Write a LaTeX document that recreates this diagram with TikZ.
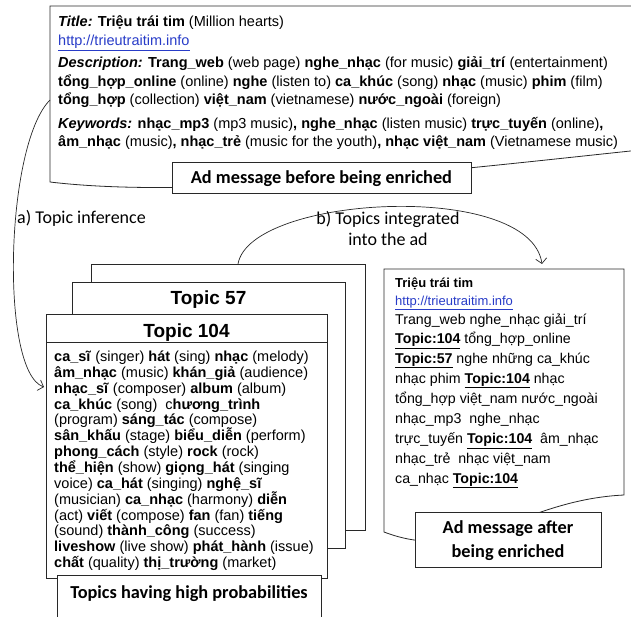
\documentclass[tikz,border=0pt]{standalone}
\usepackage{fontspec}
\setmainfont{Liberation Sans}
\newfontfamily\calfont{Carlito}
\usetikzlibrary{arrows.meta}
\definecolor{linkblue}{RGB}{40,60,200}
\definecolor{edge}{RGB}{40,40,40}
\newcommand{\us}{\_}
\newcommand{\tpc}[1]{\underline{\textbf{#1}}}
\newcommand{\lnk}{\textcolor{linkblue}{\underline{http://trieutraitim.info}}}
\begin{document}
\begin{tikzpicture}[x=1pt,y=-1pt,
  outline/.style={draw=edge, line width=0.8pt},
  card/.style={draw=edge, line width=0.8pt, fill=white},
  txt/.style={anchor=base west, inner sep=0pt, font=\fontsize{14.5}{17}\selectfont},
  rtxt/.style={anchor=base west, inner sep=0pt, font=\fontsize{14.2}{17}\selectfont},
  smalltxt/.style={anchor=base west, inner sep=0pt, font=\fontsize{13}{16}\selectfont},
  lbl/.style={anchor=base, inner sep=0pt, font=\calfont\fontsize{18}{21}\selectfont},
  boxline/.style={draw=edge, line width=0.8pt, fill=white},
  captext/.style={anchor=base, inner sep=0pt, font=\calfont\bfseries\fontsize{18.3}{22}\selectfont},
  cardtitle/.style={anchor=base, inner sep=0pt, font=\bfseries\fontsize{19}{21}\selectfont},
  arr/.style={draw=edge, line width=0.7pt, -{Straight Barb[length=5pt,width=11pt]}}
]
\useasboundingbox (0,0) rectangle (631,617);

% ---------- top document (ad before enrichment) ----------
\draw[outline] (640,6) -- (50,6) -- (50,182) .. controls (200,200) and (450,170) .. (640,150);
\node[txt] (t1) at (58,27) {\textbf{\textit{Title:}} \textbf{Triệu trái tim} (Million hearts)};
\node[txt] (t2) at (58,45.5) {\lnk};
\node[txt] (t3) at (58,68) {\textbf{\textit{Description:}} \textbf{Trang\us web} (web page) \textbf{nghe\us nhạc} (for music) \textbf{giải\us trí} (entertainment)};
\node[txt] (t4) at (58,86.5) {\textbf{tổng\us hợp\us online} (online) \textbf{nghe} (listen to) \textbf{ca\us khúc} (song) \textbf{nhạc} (music) \textbf{phim} (film)};
\node[txt] (t5) at (58,105) {\textbf{tổng\us hợp} (collection) \textbf{việt\us nam} (vietnamese) \textbf{nước\us ngoài} (foreign)};
\node[txt] (t6) at (58,128.5) {\textbf{\textit{Keywords:}} \textbf{nhạc\us mp3} (mp3 music)\textbf{,} \textbf{nghe\us nhạc} (listen music) \textbf{trực\us tuyến} (online)\textbf{,}};
\node[txt] (t7) at (58,147) {\textbf{âm\us nhạc} (music)\textbf{,} \textbf{nhạc\us trẻ} (music for the youth)\textbf{,} \textbf{nhạc việt\us nam} (Vietnamese music)};

% ---------- arrow a) ----------
\coordinate (astart) at (50,100);
\coordinate (aend) at (44,387);
\draw[arr] (astart) .. controls (5,145) and (0,372) .. (aend);
\node[lbl, anchor=base west] (alab) at (17,224) {a) Topic inference};

% ---------- stacked topic cards ----------
\draw[card] (91,264) rectangle (365,530);
\draw[card] (72,282) rectangle (345,548);
\node[cardtitle] (c57) at (208.5,305) {Topic 57};
\draw[card] (46,314) rectangle (327,578);
\draw[outline] (46,342) -- (327,342);
\node[cardtitle] (c104) at (186.5,337) {Topic 104};

\node[txt] (k1) at (54,361.5) {\textbf{ca\us sĩ} (singer) \textbf{hát} (sing) \textbf{nhạc} (melody)};
\node[txt] (k2) at (54,377.3) {\textbf{âm\us nhạc} (music) \textbf{khán\us giả} (audience)};
\node[txt] (k3) at (54,393.2) {\textbf{nhạc\us sĩ} (composer) \textbf{album} (album)};
\node[txt] (k4) at (54,409.0) {\textbf{ca\us khúc} (song) \ c\textbf{hương\us trình}};
\node[txt] (k5) at (54,424.9) {(program) \textbf{sáng\us tác} (compose)};
\node[txt] (k6) at (54,440.7) {\textbf{sân\us khấu} (stage) \textbf{biểu\us diễn} (perform)};
\node[txt] (k7) at (54,456.6) {\textbf{phong\us cách} (style) \textbf{rock} (rock)};
\node[txt] (k8) at (54,472.4) {\textbf{thể\us hiện} (show) \textbf{giọng\us hát} (singing};
\node[txt] (k9) at (54,488.3) {voice) \textbf{ca\us hát} (singing) \textbf{nghệ\us sĩ}};
\node[txt] (k10) at (54,504.1) {(musician) \textbf{ca\us nhạc} (harmony) \textbf{diễn}};
\node[txt] (k11) at (54,520.0) {(act) \textbf{viết} (compose) \textbf{fan} (fan) \textbf{tiếng}};
\node[txt] (k12) at (54,535.8) {(sound) \textbf{thành\us công} (success)};
\node[txt] (k13) at (54,551.7) {\textbf{liveshow} (live show) \textbf{phát\us hành} (issue)};
\node[txt] (k14) at (54,567.5) {\textbf{chất} (quality) \textbf{thị\us trường} (market)};

\draw[boxline] (57,575) rectangle (321,640);
\node[captext] (hp) at (189,598) {Topics having high probabilities};

% ---------- arrow b) ----------
\coordinate (bstart) at (238,264);
\coordinate (bend) at (542,264);
\draw[arr] (bstart) .. controls (250,195) and (530,180) .. (bend);
\node[lbl] (blab1) at (388,225) {b) Topics integrated};
\node[lbl] (blab2) at (388,246) {into the ad};

% ---------- right document (ad after enrichment) ----------
\draw[outline, fill=white] (384,269) -- (624,269) -- (624,495) .. controls (520,500) and (470,565) .. (384,532) -- cycle;
\node[smalltxt] (r1) at (395,287.5) {\textbf{Triệu trái tim}};
\node[smalltxt] (r2) at (395,305.5) {\lnk};
\node[rtxt] (r3) at (395,324.5) {Trang\us web nghe\us nhạc giải\us trí};
\node[rtxt] (r4) at (395,343.5) {\tpc{Topic:104} tổng\us hợp\us online};
\node[rtxt] (r5) at (395,363) {\tpc{Topic:57} nghe những ca\us khúc};
\node[rtxt] (r6) at (395,383) {nhạc phim \tpc{Topic:104} nhạc};
\node[rtxt] (r7) at (395,403.5) {tổng\us hợp việt\us nam nước\us ngoài};
\node[rtxt] (r8) at (395,423.5) {nhạc\us mp3 \ nghe\us nhạc};
\node[rtxt] (r9) at (395,443.5) {trực\us tuyến \tpc{Topic:104} \ âm\us nhạc};
\node[rtxt] (r10) at (395,463) {nhạc\us trẻ \ nhạc việt\us nam};
\node[rtxt] (r11) at (395,483) {ca\us nhạc \tpc{Topic:104}};

% ---------- caption boxes ----------
\draw[boxline] (172,162) rectangle (471,193);
\node[captext] (before) at (321.5,183.5) {Ad message before being enriched};
\draw[boxline] (415,512) rectangle (601,567);
\node[captext] (after1) at (508,533) {Ad message after};
\node[captext] (after2) at (508,557) {being enriched};
\end{tikzpicture}
\end{document}
